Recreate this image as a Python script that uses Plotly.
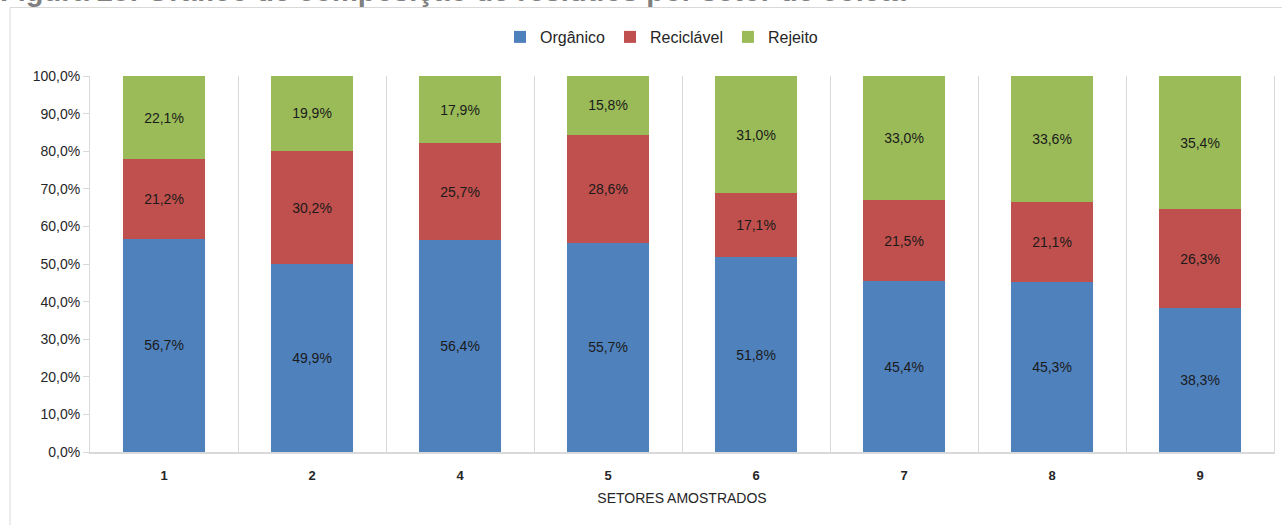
import plotly.graph_objects as go

# Sampled collection sectors and waste composition (% of total mass)
setores = ["1", "2", "4", "5", "6", "7", "8", "9"]
organico = [56.7, 49.9, 56.4, 55.7, 51.8, 45.4, 45.3, 38.3]
reciclavel = [21.2, 30.2, 25.7, 28.6, 17.1, 21.5, 21.1, 26.3]
rejeito = [22.1, 19.9, 17.9, 15.8, 31.0, 33.0, 33.6, 35.4]

y_ticks = [0, 10, 20, 30, 40, 50, 60, 70, 80, 90, 100]

FONT = "Liberation Sans, Arial, sans-serif"
GRID = "#d9d9d9"

W, H = 1282, 525
ML, MR, MT, MB = 90, 8, 76, 73
PW, PH = W - ML - MR, H - MT - MB


def fmt(v):
    return f"{v:.1f}%".replace(".", ",")


series = [
    ("Orgânico", organico, "#4f81bd"),
    ("Reciclável", reciclavel, "#c0504d"),
    ("Rejeito", rejeito, "#9bbb59"),
]

fig = go.Figure()
for name, vals, color in series:
    fig.add_trace(go.Bar(
        name=name,
        x=setores,
        y=vals,
        marker=dict(color=color, line=dict(width=0)),
        text=[fmt(v) for v in vals],
        textposition="inside",
        insidetextanchor="middle",
        textangle=0,
        textfont=dict(family=FONT, size=14, color="#1a1a1a"),
        constraintext="none",
        width=0.56,
    ))


def px_x(px):
    return (px - ML) / PW


def px_y(py):
    return (H - MB - py) / PH


fig.update_layout(
    width=W,
    height=H,
    barmode="stack",
    separators=",.",
    plot_bgcolor="white",
    paper_bgcolor="white",
    margin=dict(l=ML, r=MR, t=MT, b=MB, pad=0),
    font=dict(family=FONT, size=14, color="#404040"),
    legend=dict(
        orientation="h",
        x=px_x(500),
        xanchor="left",
        y=px_y(37),
        yanchor="middle",
        font=dict(family=FONT, size=16, color="#262626"),
        itemwidth=30,
        traceorder="normal",
    ),
    xaxis=dict(
        type="category",
        tickson="boundaries",
        showgrid=True,
        gridcolor=GRID,
        gridwidth=1,
        ticks="",
        showline=True,
        linecolor=GRID,
        linewidth=2,
        ticklabelstandoff=10,
        tickfont=dict(family=FONT, size=13, color="#262626", weight="bold"),
        title=dict(text="SETORES AMOSTRADOS",
                   font=dict(family=FONT, size=14, color="#262626"),
                   standoff=12),
        range=[-0.5, len(setores) - 0.5],
    ),
    yaxis=dict(
        range=[0, 100],
        tickmode="array",
        tickvals=y_ticks,
        ticktext=[fmt(v) for v in y_ticks],
        showgrid=False,
        zeroline=False,
        showline=True,
        mirror=True,
        linecolor=GRID,
        linewidth=1,
        ticks="outside",
        ticklen=6,
        tickcolor=GRID,
        tickfont=dict(family=FONT, size=14, color="#262626"),
    ),
    shapes=[
        dict(type="rect", xref="paper", yref="paper",
             x0=px_x(10), x1=px_x(W + 20), y0=px_y(H + 20), y1=px_y(7.5),
             line=dict(color=GRID, width=1), fillcolor="rgba(0,0,0,0)",
             layer="below"),
    ],
    annotations=[
        dict(text="<b>Figura 28: Gráfico de composição de resíduos por setor de coleta</b>",
             xref="paper", yref="paper", x=px_x(-2), y=px_y(-9),
             xanchor="left", yanchor="middle", showarrow=False,
             font=dict(family="Liberation Sans, Arial, sans-serif", size=29,
                       color="#808080")),
    ],
)

fig.write_html("out.html")
